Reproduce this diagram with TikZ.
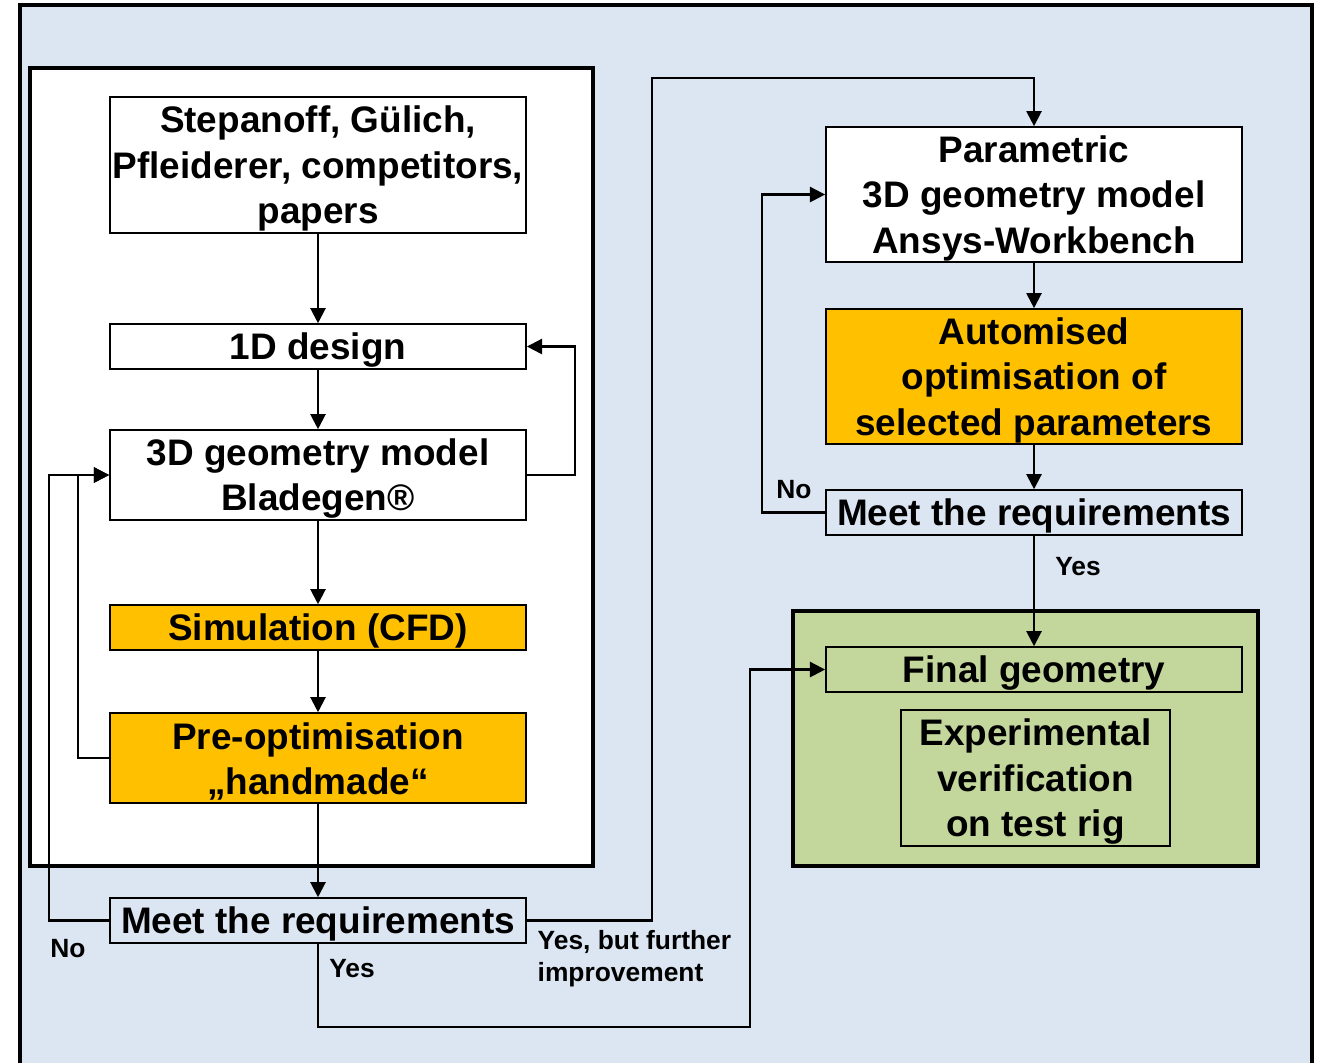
\documentclass[tikz,border=0pt]{standalone}
\usepackage{fontspec}
\setmainfont{Liberation Sans}
\usetikzlibrary{arrows.meta}
\definecolor{bgblue}{HTML}{DCE6F2}
\definecolor{boxorange}{HTML}{FFC000}
\definecolor{boxgreen}{HTML}{C3D69B}
\newcommand{\topstrut}{\rule{0pt}{9.7pt}}

\begin{document}
\begin{tikzpicture}[
  x=0.01cm, y=-0.01cm,
  box/.style={rectangle, draw, line width=0.45pt, fill=white,
              minimum width=4.16cm, inner sep=0pt, align=center,
              font=\bfseries\fontsize{10.5}{12.9}\selectfont},
  arr/.style={-{Triangle[length=4.3pt, width=4.3pt]}, line width=0.6pt},
  lbl/.style={font=\bfseries\fontsize{7.5}{9.1}\selectfont, inner sep=0pt},
]
  \useasboundingbox (0,0) rectangle (1322,1062);

  % background and frames
  \draw[fill=bgblue, line width=1.3pt] (20,5) rectangle (1312,1080);
  \draw[fill=white, line width=1.4pt] (30,68) rectangle (593,866);
  \draw[fill=boxgreen, line width=1.4pt] (793,611) rectangle (1258,866);

  % left column
  \node[box, minimum height=1.36cm] (lit) at (318,165)
    {\topstrut Stepanoff, Gülich,\\Pfleiderer, competitors,\\papers};
  \node[box, minimum height=0.45cm] (onedim) at (318,346.5)
    {\topstrut 1D design};
  \node[box, minimum height=0.90cm] (bladegen) at (318,475)
    {\topstrut 3D geometry model\\Bladegen®};
  \node[box, fill=boxorange, minimum height=0.45cm] (cfd) at (318,627.5)
    {\topstrut Simulation (CFD)};
  \node[box, fill=boxorange, minimum height=0.90cm] (preopt) at (318,758)
    {\topstrut Pre-optimisation\\„handmade“};
  \node[box, fill=bgblue, minimum height=0.45cm] (meetl) at (318,920.5)
    {\topstrut Meet the requirements};

  % right column
  \node[box, minimum height=1.35cm] (param) at (1034,194.5)
    {\topstrut Parametric\\3D geometry model\\Ansys-Workbench};
  \node[box, fill=boxorange, minimum height=1.35cm] (autoopt) at (1034,376.5)
    {\topstrut Automised\\optimisation of\\selected parameters};
  \node[box, fill=bgblue, minimum height=0.45cm] (meetr) at (1034,512.5)
    {\topstrut Meet the requirements};
  \node[box, fill=boxgreen, minimum height=0.45cm] (final) at (1034,669.5)
    {\topstrut Final geometry};
  \node[box, fill=boxgreen, minimum width=2.69cm, minimum height=1.36cm]
    (expver) at (1035.5,778)
    {\topstrut Experimental\\verification\\on test rig};

  % straight flow
  \draw[arr] (lit) -- (onedim);
  \draw[arr] (onedim) -- (bladegen);
  \draw[arr] (bladegen) -- (cfd);
  \draw[arr] (cfd) -- (preopt);
  \draw[arr] (preopt) -- (meetl);
  \draw[arr] (param) -- (autoopt);
  \draw[arr] (autoopt) -- (meetr);
  \draw[arr] (meetr) -- (final);

  % loops
  \draw[arr] (bladegen.east) -- ++(48,0) |- (onedim.east);
  \draw[arr] (preopt.west) -- ++(-31,0) |- (bladegen.west);
  \draw[arr] (meetl.west) -- ++(-60,0) |- (bladegen.west);
  \draw[arr] (meetr.west) -- ++(-63,0) |- (param.west);
  \draw[arr] (meetl.east) -| (652,78) -| (param.north);
  \draw[arr] (meetl.south) |- (750,1027) |- (final.west);

  % labels
  \node[lbl] (nol) at (68,949) {No};
  \node[lbl] (yesl) at (352,969) {Yes};
  \node[lbl, anchor=west, align=left] (yesbut) at (537,959)
    {Yes, but further\\improvement};
  \node[lbl] (nor) at (794,490) {No};
  \node[lbl] (yesr) at (1078,567) {Yes};
\end{tikzpicture}
\end{document}
